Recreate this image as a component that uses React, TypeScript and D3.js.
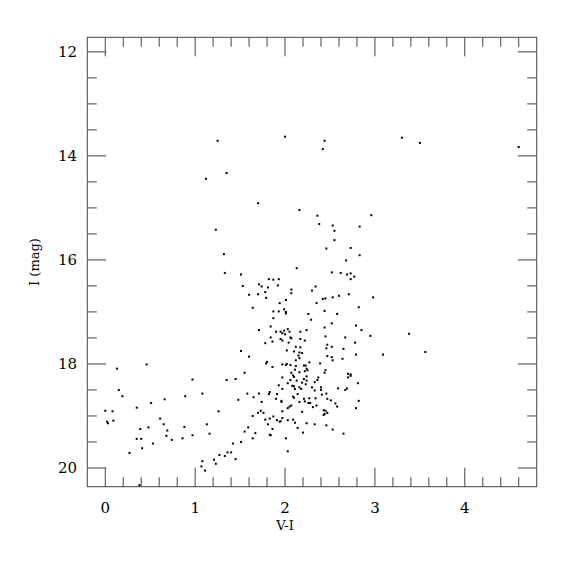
import React from 'react'
import * as d3 from 'd3'

const WIDTH = 575
const HEIGHT = 575
const FRAME = { left: 87.3, right: 536.7, top: 37.3, bottom: 486.7 }
const MAJOR_LEN = 19
const MINOR_LEN = 9.5
const INK = '#444'

const X_DOMAIN: [number, number] = [-0.2, 4.8]
const Y_DOMAIN: [number, number] = [11.72, 20.36]
const X_TICKS = [0, 1, 2, 3, 4]
const Y_TICKS = [12, 14, 16, 18, 20]
const X_TITLE = 'V-I'
const Y_TITLE = 'I (mag)'

// [V-I, I] pairs
const brightStars = [
  [1.25, 13.71], [1.35, 14.33], [1.12, 14.44], [1.23, 15.42], [1.32, 15.89],
  [2.0, 13.63], [2.44, 13.71], [2.42, 13.87], [1.7, 14.91], [2.16, 15.04],
  [2.36, 15.15], [2.96, 15.14], [2.38, 15.31], [2.53, 15.34], [2.83, 15.36],
  [2.55, 15.44], [2.55, 15.62], [2.46, 15.78], [2.73, 15.77], [2.83, 15.91],
  [2.68, 16.01], [2.13, 16.16], [3.3, 13.65], [3.5, 13.75], [4.6, 13.83],
  [3.38, 17.42], [3.56, 17.77],
]

const blueStars = [
  [1.33, 16.25], [0.13, 18.09], [0.46, 18.01], [0.97, 18.3], [1.35, 18.31],
  [1.45, 18.29], [0.15, 18.5], [0.19, 18.62], [1.08, 18.57], [0.89, 18.62],
  [0.66, 18.68], [0.51, 18.75], [0.35, 18.84], [0.0, 18.9], [0.08, 18.91],
  [1.26, 18.91], [0.61, 19.05], [0.02, 19.11], [0.03, 19.14], [0.09, 19.09],
  [0.65, 19.16], [0.69, 19.28], [0.68, 19.38], [0.74, 19.46], [0.48, 19.22],
  [0.39, 19.25], [0.35, 19.44], [0.4, 19.44], [0.41, 19.62], [0.53, 19.53],
  [0.27, 19.71], [0.88, 19.21], [0.86, 19.43], [0.97, 19.37], [1.13, 19.16],
  [1.16, 19.34], [1.42, 19.53], [1.36, 19.7], [1.4, 19.7], [1.33, 19.77],
  [1.27, 19.75], [1.21, 19.84], [1.23, 19.92], [1.08, 19.87], [1.07, 19.97],
  [1.11, 20.05], [1.45, 19.83], [0.38, 20.33],
]

const upperBranch = [
  [1.51, 16.28], [1.53, 16.5], [1.6, 16.67], [1.64, 16.92], [1.71, 16.47],
  [1.74, 16.51], [1.7, 16.66], [1.78, 16.62], [1.79, 16.73], [1.81, 16.53],
  [1.82, 16.37], [1.87, 16.38], [1.93, 16.37], [1.92, 16.49], [2.07, 16.57],
  [2.07, 16.64], [2.01, 16.77], [1.94, 16.83], [1.87, 16.99], [1.93, 16.99],
  [1.99, 16.95], [2.01, 17.0], [2.01, 17.03], [1.87, 17.12], [1.71, 17.35],
  [1.84, 17.28], [1.9, 17.38], [1.95, 17.38], [1.97, 17.41], [1.99, 17.36],
  [2.03, 17.33], [2.0, 17.43], [2.05, 17.38], [1.84, 17.49], [1.86, 17.57],
  [1.78, 17.6], [1.95, 17.52], [1.97, 17.55], [2.06, 17.49], [2.07, 17.51],
  [2.04, 17.59], [2.12, 17.67], [2.17, 17.68], [2.17, 17.38], [2.17, 17.52],
  [2.22, 17.55], [2.24, 17.35], [2.29, 17.15], [2.26, 17.04], [2.35, 16.83],
  [2.3, 16.59], [2.34, 16.51], [2.42, 16.75], [2.45, 16.74], [2.53, 16.72],
  [2.6, 16.69], [2.71, 16.66], [2.52, 16.24], [2.62, 16.25], [2.69, 16.28],
  [2.73, 16.26], [2.77, 16.32], [2.73, 16.37], [2.98, 16.72], [2.82, 16.91],
  [2.44, 16.98], [2.58, 17.04], [2.52, 17.22], [2.44, 17.3], [2.79, 17.26],
  [2.85, 17.35], [2.95, 17.46], [2.67, 17.49], [2.78, 17.59], [2.45, 17.47],
  [2.47, 17.63], [2.52, 17.67], [2.46, 17.7], [2.65, 17.71],
]

const middleBranch = [
  [1.51, 17.75], [1.6, 17.86], [1.55, 18.17], [2.02, 17.74], [2.1, 17.76],
  [2.16, 17.78], [2.19, 17.79], [2.15, 17.84], [2.12, 17.93], [2.16, 17.89],
  [2.47, 17.85], [2.52, 17.87], [2.53, 17.93], [2.64, 17.9], [2.79, 17.82],
  [3.09, 17.82], [1.8, 17.96], [1.79, 17.99], [1.86, 18.06], [1.97, 18.01],
  [2.01, 18.02], [2.02, 18.0], [2.06, 18.02], [2.12, 18.04], [2.11, 18.11],
  [2.07, 18.17], [2.09, 18.22], [2.1, 18.25], [2.16, 18.16], [2.21, 18.03],
  [2.23, 18.03], [2.24, 18.09], [2.22, 18.14], [2.25, 18.12], [2.27, 17.97],
  [2.24, 18.24], [2.21, 18.29], [2.24, 18.32], [2.19, 18.36], [2.13, 18.32],
  [2.1, 18.43], [2.16, 18.45], [2.18, 18.48], [2.23, 18.39], [2.06, 18.31],
  [2.08, 18.42], [2.03, 18.37], [1.97, 18.26], [1.93, 18.41], [1.97, 18.48],
  [2.11, 18.48], [2.39, 17.99], [2.45, 18.12], [2.44, 18.17], [2.37, 18.26],
  [2.36, 18.31], [2.33, 18.35], [2.3, 18.45], [2.7, 18.19], [2.73, 18.2],
  [2.7, 18.26], [2.73, 18.23],
]

const lowerBranch = [
  [1.48, 18.69], [1.58, 18.57], [1.65, 18.64], [1.71, 18.57], [1.74, 18.73],
  [1.7, 18.94], [1.73, 18.9], [1.76, 18.94], [1.82, 18.58], [1.83, 18.54],
  [1.91, 18.58], [1.9, 18.67], [1.96, 18.71], [1.96, 18.73], [1.97, 18.91],
  [2.03, 18.85], [2.05, 18.82], [2.07, 18.8], [2.09, 18.63], [2.1, 18.65],
  [2.14, 18.58], [2.16, 18.73], [2.21, 18.67], [2.22, 18.72], [2.26, 18.75],
  [2.28, 18.75], [2.27, 18.66], [2.19, 18.92], [2.31, 18.83], [2.35, 18.8],
  [2.34, 18.66], [2.33, 18.51], [2.4, 18.45], [2.4, 18.5], [2.41, 18.59],
  [2.46, 18.57], [2.47, 18.67], [2.51, 18.7], [2.56, 18.76], [2.58, 18.82],
  [2.59, 18.47], [2.67, 18.5], [2.69, 18.47], [2.81, 18.37], [2.82, 18.71],
  [2.79, 18.85], [2.43, 18.89], [2.45, 18.9], [2.44, 18.96], [2.47, 18.94],
  [1.64, 19.0], [1.59, 19.22], [1.55, 19.3], [1.67, 19.33], [1.64, 19.43],
  [1.51, 19.5], [1.78, 19.07], [1.83, 19.05], [1.87, 19.01], [1.91, 19.08],
  [1.94, 19.11], [1.95, 19.1], [1.97, 19.04], [1.81, 19.16], [1.86, 19.25],
  [1.83, 19.36], [1.84, 19.37], [2.03, 19.08], [2.09, 19.07], [2.11, 19.13],
  [2.14, 19.23], [2.2, 19.32], [2.24, 19.14], [2.33, 19.16], [2.01, 19.43],
  [2.03, 19.68], [2.46, 19.18], [2.53, 19.26], [2.65, 19.34], [2.43, 18.98],
]

const stars = [...brightStars, ...blueStars, ...upperBranch, ...middleBranch, ...lowerBranch]

export default function App() {
  const x = d3.scaleLinear().domain(X_DOMAIN).range([FRAME.left, FRAME.right])
  const y = d3.scaleLinear().domain(Y_DOMAIN).range([FRAME.top, FRAME.bottom])

  // minor ticks every 0.2 in colour, every 0.5 in magnitude
  const xMinor = d3.range(0, 24).map((i) => i * 0.2).filter((v) => !X_TICKS.some((t) => Math.abs(t - v) < 1e-6))
  const yMinor = d3.range(24, 41).map((i) => i * 0.5).filter((v) => !Y_TICKS.includes(v))

  const font = '"DejaVu Serif", serif'

  return (
    <svg width={WIDTH} height={HEIGHT} style={{ position: 'absolute', left: 0, top: 0, background: '#fff' }}>
      <g stroke={INK} strokeWidth={1} fill="none">
        <rect x={FRAME.left} y={FRAME.top} width={FRAME.right - FRAME.left} height={FRAME.bottom - FRAME.top} />
        {X_TICKS.map((t) => (
          <g key={'xt' + t}>
            <line x1={x(t)} x2={x(t)} y1={FRAME.bottom} y2={FRAME.bottom - MAJOR_LEN} />
            <line x1={x(t)} x2={x(t)} y1={FRAME.top} y2={FRAME.top + MAJOR_LEN} />
          </g>
        ))}
        {xMinor.map((t) => (
          <g key={'xm' + t}>
            <line x1={x(t)} x2={x(t)} y1={FRAME.bottom} y2={FRAME.bottom - MINOR_LEN} />
            <line x1={x(t)} x2={x(t)} y1={FRAME.top} y2={FRAME.top + MINOR_LEN} />
          </g>
        ))}
        {Y_TICKS.map((t) => (
          <g key={'yt' + t}>
            <line x1={FRAME.left} x2={FRAME.left + MAJOR_LEN} y1={y(t)} y2={y(t)} />
            <line x1={FRAME.right} x2={FRAME.right - MAJOR_LEN} y1={y(t)} y2={y(t)} />
          </g>
        ))}
        {yMinor.map((t) => (
          <g key={'ym' + t}>
            <line x1={FRAME.left} x2={FRAME.left + MINOR_LEN} y1={y(t)} y2={y(t)} />
            <line x1={FRAME.right} x2={FRAME.right - MINOR_LEN} y1={y(t)} y2={y(t)} />
          </g>
        ))}
      </g>

      <g fill="#000">
        {stars.map((d, i) => (
          <rect key={i} x={x(d[0]) - 1} y={y(d[1]) - 1} width={2} height={2} />
        ))}
      </g>

      <g fontFamily={font} fontSize={15} fill="#000">
        {X_TICKS.map((t) => (
          <text key={'xl' + t} x={x(t)} y={513} textAnchor="middle">{t}</text>
        ))}
        {Y_TICKS.map((t) => (
          <text key={'yl' + t} x={77} y={y(t)} dy="0.36em" textAnchor="end">{t}</text>
        ))}
      </g>

      <text x={x(2)} y={530} textAnchor="middle" fontFamily={font} fontSize={13}>{X_TITLE}</text>
      <text
        transform={`translate(39, ${(FRAME.top + FRAME.bottom) / 2}) rotate(-90)`}
        textAnchor="middle"
        fontFamily={font}
        fontSize={13}
      >
        {Y_TITLE}
      </text>
    </svg>
  )
}
